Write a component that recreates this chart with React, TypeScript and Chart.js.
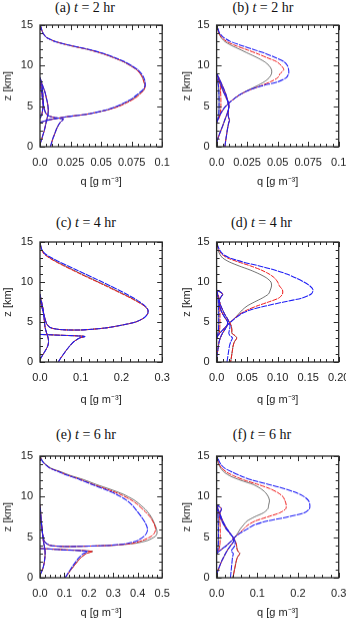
import React, { useEffect, useRef } from 'react';
import { Chart, registerables } from 'chart.js';
Chart.register(...registerables);

// ---------- shared ----------
const yTicks = [0, 5, 10, 15];
const yTickLabels = ['0', '5', '10', '15'];

// ---------- panel (a) t = 2 hr ----------
const aXTicks = [0, 0.025, 0.05, 0.075, 0.1];
const aXTickLabels = ['0.0', '0.025', '0.05', '0.075', '0.1'];
const aSnowZ = [3.0, 3.3, 3.5, 3.7, 4.0, 4.5, 5, 5.5, 6, 6.5, 7, 7.5, 8, 8.5, 9, 9.5, 10, 10.5, 11, 11.5, 12, 12.5, 13, 13.5, 14, 14.5, 15];
const aSnowK = [0, 0.007, 0.014, 0.022, 0.038, 0.054, 0.064, 0.071, 0.077, 0.081, 0.085, 0.086, 0.085, 0.084, 0.082, 0.079, 0.074, 0.068, 0.06, 0.051, 0.039, 0.024, 0.012, 0.005, 0.0025, 0.0012, 0.0004];
const aSnowR = [0, 0.007, 0.014, 0.022, 0.038, 0.054, 0.065, 0.072, 0.078, 0.082, 0.085, 0.086, 0.085, 0.084, 0.082, 0.079, 0.074, 0.068, 0.06, 0.051, 0.039, 0.024, 0.012, 0.005, 0.0025, 0.0012, 0.0004];
const aSnowB = [0, 0.007, 0.014, 0.022, 0.038, 0.053, 0.063, 0.07, 0.076, 0.08, 0.084, 0.086, 0.086, 0.085, 0.083, 0.08, 0.075, 0.069, 0.061, 0.052, 0.04, 0.025, 0.012, 0.005, 0.0025, 0.0012, 0.0004];
const aRainZ = [0, 0.5, 1, 1.5, 2, 2.5, 3, 3.4, 3.6, 3.8, 4.2, 5, 6, 7, 8];
const aRainX = [0.0085, 0.0095, 0.0105, 0.0118, 0.013, 0.0145, 0.0165, 0.019, 0.012, 0.007, 0.0045, 0.003, 0.002, 0.001, 0];
const aCloudZ = [0.3, 1, 1.5, 2, 2.5, 3, 3.5, 4, 4.5, 5, 5.5, 6, 6.5, 7, 7.5, 8, 8.5];
const aCloudX = [0, 0.0015, 0.0025, 0.0035, 0.0043, 0.005, 0.0058, 0.0065, 0.0068, 0.0065, 0.006, 0.0052, 0.0045, 0.0035, 0.0022, 0.001, 0];
const aIceZ = [3.5, 4, 5, 6, 7, 8, 8.5];
const aIceX = [0, 0.0015, 0.0025, 0.0025, 0.002, 0.001, 0];

// ---------- panel (b) t = 2 hr ----------
const bXTicks = [0, 0.025, 0.05, 0.075, 0.1];
const bXTickLabels = ['0.0', '0.025', '0.05', '0.075', '0.1'];
const bSnowZ = [3.0, 3.5, 4, 4.5, 5, 5.5, 6, 6.5, 7, 7.5, 8, 8.5, 9, 9.5, 10, 10.5, 11, 11.5, 12, 12.5, 13, 13.5, 14, 14.5, 15];
const bSnowK = [0, 0.0015, 0.003, 0.005, 0.0075, 0.011, 0.015, 0.02, 0.026, 0.033, 0.039, 0.043, 0.045, 0.045, 0.043, 0.039, 0.033, 0.026, 0.019, 0.012, 0.0065, 0.0035, 0.0018, 0.0008, 0.0003];
const bSnowR = [0, 0.0015, 0.003, 0.005, 0.0075, 0.011, 0.015, 0.02, 0.027, 0.036, 0.044, 0.05, 0.052, 0.055, 0.053, 0.049, 0.041, 0.033, 0.024, 0.015, 0.008, 0.004, 0.002, 0.001, 0.0003];
const bSnowB = [0, 0.0015, 0.003, 0.005, 0.0075, 0.011, 0.015, 0.02, 0.027, 0.037, 0.05, 0.057, 0.059, 0.059, 0.058, 0.055, 0.048, 0.04, 0.03, 0.02, 0.011, 0.0055, 0.0025, 0.0012, 0.0004];
const bRainZ = [0, 0.5, 1, 1.5, 2, 2.5, 3, 3.3, 3.6, 4, 4.5, 5, 5.5, 6, 6.5, 7, 7.5, 8, 8.5, 9];
const bRainX = [0.0068, 0.0072, 0.0077, 0.0082, 0.0087, 0.0093, 0.01, 0.0106, 0.0098, 0.0095, 0.0097, 0.0098, 0.0093, 0.0085, 0.0075, 0.0062, 0.0048, 0.0033, 0.0018, 0];
const bCloudZ = [0.5, 1, 1.5, 2, 2.5, 3, 3.5, 4, 4.5, 5, 5.5, 6, 6.5, 7, 7.5, 8, 8.5, 9];
const bCloudX = [0, 0.001, 0.0022, 0.0035, 0.0048, 0.006, 0.0072, 0.0085, 0.0095, 0.0102, 0.0095, 0.008, 0.0065, 0.005, 0.0038, 0.0025, 0.0012, 0];
const bIceZ = [3, 3.5, 4, 5, 6, 7, 7.5, 8, 8.5];
const bIceR = [0, 0.002, 0.003, 0.0035, 0.0035, 0.0032, 0.003, 0.002, 0];
const bIceB = [0, 0.0012, 0.0018, 0.002, 0.002, 0.0018, 0.0015, 0.001, 0];

// ---------- panel (c) t = 4 hr ----------
const cXTicks = [0, 0.1, 0.2, 0.3];
const cXTickLabels = ['0.0', '0.1', '0.2', '0.3'];
const cSnowZ = [8.0, 7.0, 6.2, 5.5, 4.8, 4.3, 4.05, 4.0, 4.25, 4.6, 5.0, 5.5, 6.0, 6.5, 7.0, 7.5, 8.0, 8.5, 9.0, 9.5, 10, 10.5, 11, 11.5, 12, 12.5, 13, 13.5, 14, 14.5, 15];
const cSnowK = [0, 0.004, 0.008, 0.012, 0.016, 0.025, 0.05, 0.1, 0.16, 0.2, 0.235, 0.255, 0.264, 0.265, 0.257, 0.242, 0.225, 0.205, 0.185, 0.165, 0.144, 0.123, 0.102, 0.082, 0.062, 0.042, 0.025, 0.011, 0.0045, 0.0018, 0.0005];
const cSnowR = [0, 0.004, 0.008, 0.012, 0.016, 0.025, 0.05, 0.1, 0.16, 0.2, 0.235, 0.255, 0.264, 0.265, 0.256, 0.24, 0.222, 0.202, 0.182, 0.162, 0.141, 0.12, 0.099, 0.079, 0.059, 0.04, 0.023, 0.01, 0.004, 0.0015, 0.0005];
const cSnowB = [0, 0.004, 0.008, 0.012, 0.016, 0.025, 0.05, 0.1, 0.16, 0.2, 0.235, 0.255, 0.264, 0.265, 0.258, 0.245, 0.23, 0.212, 0.193, 0.173, 0.153, 0.132, 0.111, 0.09, 0.069, 0.048, 0.029, 0.013, 0.005, 0.002, 0.0005];
const cRainZ = [0, 0.5, 1, 1.5, 2, 2.5, 3, 3.2, 3.35, 3.45];
const cRainX = [0.045, 0.051, 0.058, 0.065, 0.073, 0.082, 0.097, 0.11, 0.05, 0];
const cCloudZ = [0.3, 1, 1.5, 2, 2.5, 3, 3.5, 4, 4.5, 5, 5.5, 6, 6.5, 7, 7.5, 8, 8.5];
const cCloudX = [0, 0.008, 0.014, 0.019, 0.021, 0.02, 0.017, 0.014, 0.012, 0.011, 0.01, 0.009, 0.008, 0.006, 0.004, 0.002, 0];

// ---------- panel (d) t = 4 hr ----------
const dXTicks = [0, 0.05, 0.1, 0.15, 0.2];
const dXTickLabels = ['0.0', '0.05', '0.10', '0.15', '0.20'];
const dSnowZ = [3.0, 3.5, 4, 4.5, 5, 5.5, 6, 6.5, 7, 7.5, 8, 8.5, 9, 9.5, 10, 10.5, 11, 11.5, 12, 12.5, 13, 13.5, 14, 14.5, 15];
const dSnowK = [0, 0.004, 0.01, 0.016, 0.023, 0.03, 0.036, 0.042, 0.05, 0.062, 0.075, 0.085, 0.088, 0.09, 0.089, 0.082, 0.07, 0.055, 0.037, 0.021, 0.01, 0.005, 0.0025, 0.001, 0.0003];
const dSnowR = [0, 0.004, 0.01, 0.016, 0.023, 0.03, 0.038, 0.05, 0.066, 0.085, 0.102, 0.108, 0.108, 0.103, 0.1, 0.095, 0.086, 0.073, 0.056, 0.036, 0.018, 0.008, 0.004, 0.0015, 0.0005];
const dSnowB = [0, 0.004, 0.01, 0.016, 0.023, 0.031, 0.04, 0.055, 0.08, 0.11, 0.14, 0.155, 0.158, 0.153, 0.143, 0.13, 0.115, 0.095, 0.07, 0.043, 0.022, 0.01, 0.005, 0.002, 0.0005];
const dRainZ = [0, 0.5, 1, 1.5, 2, 2.5, 3, 3.3, 3.6, 4, 4.5, 5, 5.5, 6, 6.5, 7, 7.5, 8, 8.5, 9];
const dRainR = [0.023, 0.024, 0.025, 0.026, 0.027, 0.029, 0.033, 0.03, 0.025, 0.025, 0.024, 0.021, 0.017, 0.013, 0.01, 0.007, 0.005, 0.003, 0.0015, 0];
const dRainB = [0.017, 0.018, 0.019, 0.02, 0.021, 0.023, 0.026, 0.022, 0.02, 0.021, 0.022, 0.02, 0.017, 0.013, 0.01, 0.007, 0.005, 0.003, 0.0015, 0];
const dCloudZ = [0.5, 1, 1.5, 2, 2.5, 3, 3.5, 4, 4.5, 5, 5.5, 6, 6.5, 7, 7.5, 8, 8.5, 9];
const dCloudX = [0, 0.001, 0.002, 0.003, 0.004, 0.006, 0.009, 0.013, 0.017, 0.018, 0.014, 0.01, 0.007, 0.005, 0.004, 0.006, 0.01, 0];
const dIceZ = [3, 3.5, 4, 5, 6, 7, 8, 8.5, 9];
const dIceR = [0, 0.004, 0.005, 0.0055, 0.0055, 0.005, 0.004, 0.002, 0];
const dIceB = [0, 0.002, 0.003, 0.0035, 0.0035, 0.003, 0.0025, 0.0012, 0];

// ---------- panel (e) t = 6 hr ----------
const eXTicks = [0, 0.1, 0.2, 0.3, 0.4, 0.5];
const eXTickLabels = ['0.0', '0.1', '0.2', '0.3', '0.4', '0.5'];
const eSnowZ = [8.0, 7.0, 6.0, 5.0, 4.4, 4.0, 3.85, 3.9, 4.0, 4.25, 4.6, 5.1, 5.5, 6.0, 6.7, 7.5, 8.3, 9.0, 9.6, 10.3, 10.9, 11.5, 12.1, 12.6, 13.1, 13.5, 13.9, 14.3, 14.7, 15];
const eSnowK = [0, 0.004, 0.008, 0.013, 0.02, 0.04, 0.1, 0.2, 0.3, 0.39, 0.44, 0.472, 0.479, 0.477, 0.468, 0.455, 0.435, 0.41, 0.384, 0.34, 0.288, 0.23, 0.178, 0.125, 0.082, 0.045, 0.027, 0.012, 0.005, 0.001];
const eSnowR = [0, 0.004, 0.008, 0.013, 0.02, 0.04, 0.1, 0.2, 0.3, 0.38, 0.42, 0.455, 0.468, 0.473, 0.466, 0.45, 0.425, 0.4, 0.372, 0.327, 0.275, 0.218, 0.167, 0.117, 0.076, 0.041, 0.024, 0.011, 0.004, 0.001];
const eSnowB = [0, 0.004, 0.008, 0.013, 0.02, 0.04, 0.1, 0.2, 0.29, 0.36, 0.4, 0.425, 0.436, 0.44, 0.432, 0.415, 0.395, 0.375, 0.352, 0.312, 0.265, 0.213, 0.163, 0.115, 0.074, 0.041, 0.024, 0.011, 0.004, 0.001];
const eRainZ = [0, 0.5, 1, 1.5, 2, 2.5, 3, 3.25, 3.45, 3.6];
const eRainR = [0.103, 0.115, 0.127, 0.14, 0.153, 0.168, 0.19, 0.215, 0.1, 0];
const eRainB = [0.103, 0.113, 0.124, 0.135, 0.147, 0.16, 0.178, 0.195, 0.09, 0];
const eCloudZ = [0.3, 1, 1.5, 2, 2.5, 3, 3.5, 4, 4.5, 5, 5.5, 6, 6.5, 7, 7.5, 8, 8.5, 9];
const eCloudX = [0, 0.01, 0.015, 0.018, 0.02, 0.021, 0.02, 0.017, 0.014, 0.012, 0.01, 0.009, 0.007, 0.005, 0.004, 0.003, 0.0015, 0];

// ---------- panel (f) t = 6 hr ----------
const fXTicks = [0, 0.1, 0.2, 0.3];
const fXTickLabels = ['0.0', '0.1', '0.2', '0.3'];
const fSnowZ = [3.0, 3.5, 4, 4.5, 5, 5.5, 6, 6.5, 7, 7.5, 8, 8.5, 9, 9.5, 10, 10.5, 11, 11.5, 12, 12.5, 13, 13.5, 14, 14.5, 15];
const fSnowK = [0, 0.012, 0.025, 0.036, 0.045, 0.052, 0.058, 0.066, 0.075, 0.093, 0.115, 0.126, 0.128, 0.13, 0.127, 0.12, 0.108, 0.09, 0.06, 0.035, 0.019, 0.01, 0.005, 0.002, 0.0006];
const fSnowR = [0, 0.012, 0.025, 0.036, 0.045, 0.056, 0.066, 0.077, 0.095, 0.125, 0.155, 0.17, 0.171, 0.168, 0.163, 0.15, 0.13, 0.102, 0.07, 0.045, 0.025, 0.013, 0.006, 0.003, 0.0008];
const fSnowB = [0, 0.012, 0.025, 0.036, 0.045, 0.058, 0.075, 0.092, 0.125, 0.175, 0.215, 0.228, 0.229, 0.226, 0.215, 0.195, 0.165, 0.128, 0.09, 0.062, 0.04, 0.02, 0.01, 0.005, 0.001];
const fRainZ = [0, 0.5, 1, 1.5, 2, 2.5, 3, 3.3, 3.6, 4, 4.5, 5, 5.5, 6, 6.5, 7, 7.5, 8, 8.5, 9];
const fRainR = [0.04, 0.042, 0.044, 0.046, 0.048, 0.051, 0.057, 0.052, 0.05, 0.049, 0.046, 0.04, 0.033, 0.026, 0.02, 0.015, 0.011, 0.007, 0.003, 0];
const fRainB = [0.034, 0.035, 0.036, 0.037, 0.038, 0.039, 0.041, 0.036, 0.04, 0.045, 0.045, 0.04, 0.033, 0.026, 0.02, 0.015, 0.011, 0.007, 0.003, 0];
const fCloudZ = [0.3, 1, 1.5, 2, 2.5, 3, 3.5, 4, 4.5, 5, 5.5, 6, 6.5, 7, 7.5, 8, 8.5, 9];
const fCloudX = [0, 0.004, 0.008, 0.012, 0.017, 0.022, 0.028, 0.035, 0.042, 0.04, 0.032, 0.024, 0.018, 0.013, 0.009, 0.008, 0.012, 0];
const fIceZ = [3, 3.5, 4, 5, 6, 7, 8, 8.5, 9];
const fIceR = [0, 0.006, 0.008, 0.009, 0.009, 0.008, 0.006, 0.003, 0];
const fIceB = [0, 0.003, 0.004, 0.0045, 0.0045, 0.004, 0.003, 0.0015, 0];

// ---------- layout (positions only) ----------
const FONT = '"Liberation Sans", Arial, Helvetica, sans-serif';
const COLS = [
  { x: 0, w: 173, plotL: 40, plotR: 162.2, yTitleC: 7.5 },
  { x: 173, w: 173, plotL: 216.6, plotR: 338.7, yTitleC: 13.5 },
];
const ROWS = [
  { top: 25, bottom: 146.7, titleY: 8, xTitleOff: 35 },
  { top: 241.7, bottom: 362.3, titleY: 222.5, xTitleOff: 38 },
  { top: 456, bottom: 577.7, titleY: 434.5, xTitleOff: 35 },
];

type Curve = { z: number[]; k: number[]; r: number[]; b: number[] };
type PanelDef = {
  label: string; hr: number; row: number; col: number; titleX: number;
  xMax: number; xMinor: number; xTicks: number[]; xLabels: string[]; curves: Curve[];
};

const panels: PanelDef[] = [
  { label: '(a)', hr: 2, row: 0, col: 0, titleX: 85, xMax: 0.1, xMinor: 0.005, xTicks: aXTicks, xLabels: aXTickLabels,
    curves: [
      { z: aSnowZ, k: aSnowK, r: aSnowR, b: aSnowB },
      { z: aRainZ, k: aRainX, r: aRainX, b: aRainX },
      { z: aCloudZ, k: aCloudX, r: aCloudX, b: aCloudX },
      { z: aIceZ, k: aIceX, r: aIceX, b: aIceX },
    ] },
  { label: '(b)', hr: 2, row: 0, col: 1, titleX: 263, xMax: 0.1, xMinor: 0.005, xTicks: bXTicks, xLabels: bXTickLabels,
    curves: [
      { z: bSnowZ, k: bSnowK, r: bSnowR, b: bSnowB },
      { z: bRainZ, k: bRainX, r: bRainX, b: bRainX },
      { z: bCloudZ, k: bCloudX, r: bCloudX, b: bCloudX },
      { z: bIceZ, k: bIceB, r: bIceR, b: bIceB },
    ] },
  { label: '(c)', hr: 4, row: 1, col: 0, titleX: 86, xMax: 0.3, xMinor: 0.02, xTicks: cXTicks, xLabels: cXTickLabels,
    curves: [
      { z: cSnowZ, k: cSnowK, r: cSnowR, b: cSnowB },
      { z: cRainZ, k: cRainX, r: cRainX, b: cRainX },
      { z: cCloudZ, k: cCloudX, r: cCloudX, b: cCloudX },
    ] },
  { label: '(d)', hr: 4, row: 1, col: 1, titleX: 261.5, xMax: 0.2, xMinor: 0.01, xTicks: dXTicks, xLabels: dXTickLabels,
    curves: [
      { z: dSnowZ, k: dSnowK, r: dSnowR, b: dSnowB },
      { z: dRainZ, k: dRainR, r: dRainR, b: dRainB },
      { z: dCloudZ, k: dCloudX, r: dCloudX, b: dCloudX },
      { z: dIceZ, k: dIceB, r: dIceR, b: dIceB },
    ] },
  { label: '(e)', hr: 6, row: 2, col: 0, titleX: 86, xMax: 0.5, xMinor: 0.02, xTicks: eXTicks, xLabels: eXTickLabels,
    curves: [
      { z: eSnowZ, k: eSnowK, r: eSnowR, b: eSnowB },
      { z: eRainZ, k: eRainR, r: eRainR, b: eRainB },
      { z: eCloudZ, k: eCloudX, r: eCloudX, b: eCloudX },
    ] },
  { label: '(f)', hr: 6, row: 2, col: 1, titleX: 262, xMax: 0.3, xMinor: 0.02, xTicks: fXTicks, xLabels: fXTickLabels,
    curves: [
      { z: fSnowZ, k: fSnowK, r: fSnowR, b: fSnowB },
      { z: fRainZ, k: fRainR, r: fRainR, b: fRainB },
      { z: fCloudZ, k: fCloudX, r: fCloudX, b: fCloudX },
      { z: fIceZ, k: fIceB, r: fIceR, b: fIceB },
    ] },
];

const pts = (xs: number[], zs: number[]) => zs.map((z, i) => ({ x: xs[i], y: z }));

const framePlugin = {
  id: 'frame',
  afterDatasetsDraw(chart: any, _a: any, opts: any) {
    const { ctx, chartArea: a, scales } = chart;
    const xs = scales.x, ys = scales.y;
    ctx.save();
    ctx.strokeStyle = '#2a2a2a';
    ctx.lineWidth = 1;
    const seg = (x1: number, y1: number, x2: number, y2: number) => {
      ctx.beginPath(); ctx.moveTo(x1, y1); ctx.lineTo(x2, y2); ctx.stroke();
    };
    for (let v = 0; v <= 15; v += 1) {
      const py = Math.round(ys.getPixelForValue(v)) + 0.5;
      const len = v % 5 === 0 ? 5 : 3;
      seg(a.left, py, a.left + len, py);
      seg(a.right, py, a.right - len, py);
    }
    const n = Math.round(opts.max / opts.minor);
    const majors: number[] = opts.majors;
    for (let i = 0; i <= n; i++) {
      const v = i * opts.minor;
      const px = Math.round(xs.getPixelForValue(v)) + 0.5;
      const isMajor = majors.some((m) => Math.abs(m - v) < opts.minor / 10);
      const len = isMajor ? 5 : 3;
      seg(px, a.top, px, a.top + len);
      seg(px, a.bottom, px, a.bottom - len);
    }
    ctx.lineWidth = 1.3;
    ctx.strokeRect(a.left, a.top, a.right - a.left, a.bottom - a.top);
    ctx.restore();
  },
};

function Panel({ p }: { p: PanelDef }) {
  const ref = useRef<HTMLCanvasElement>(null);
  const col = COLS[p.col];
  const row = ROWS[p.row];
  const padT = 6;
  const xAxisH = 50;
  const cTop = row.top - padT;
  const cH = padT + (row.bottom - row.top) + xAxisH;

  useEffect(() => {
    const datasets: any[] = [];
    // 'order': higher order is drawn first (underneath); blue ends on top.
    const styles = [
      { key: 'k', color: 'rgba(60,60,60,0.9)', dash: [] as number[], off: 0, w: 0.8, order: 3 },
      { key: 'r', color: '#ee1818', dash: [5, 1], off: 3, w: 1, order: 2 },
      { key: 'b', color: '#1e1ef5', dash: [6, 1], off: 0, w: 1.05, order: 1 },
    ];
    styles.forEach((s) => {
      p.curves.forEach((c: any) => {
        datasets.push({
          data: pts(c[s.key], c.z),
          showLine: true,
          borderColor: s.color,
          borderWidth: s.w,
          borderDash: s.dash,
          borderDashOffset: s.off,
          pointRadius: 0,
          tension: 0.25,
          fill: false,
          order: s.order,
        });
      });
    });
    const chart = new Chart(ref.current as HTMLCanvasElement, {
      type: 'scatter',
      data: { datasets },
      options: {
        responsive: false,
        animation: false,
        devicePixelRatio: 1,
        events: [],
        layout: { padding: { left: 0, right: col.x + col.w - col.plotR, top: padT, bottom: 0 } },
        plugins: {
          legend: { display: false },
          tooltip: { enabled: false },
          frame: { minor: p.xMinor, max: p.xMax, majors: p.xTicks },
        } as any,
        scales: {
          x: {
            type: 'linear',
            min: 0,
            max: p.xMax,
            grid: { display: false, drawTicks: false },
            border: { display: false },
            afterBuildTicks: (s: any) => { s.ticks = p.xTicks.map((v) => ({ value: v })); },
            afterFit: (s: any) => { s.height = xAxisH; s.paddingLeft = 0; s.paddingRight = 0; },
            ticks: {
              padding: 9,
              maxRotation: 0,
              autoSkip: false,
              color: '#222',
              font: { family: FONT, size: 11 },
              callback: (_v: any, i: number) => p.xLabels[i],
            },
            title: {
              display: true,
              text: 'q [g m\u207B\u00B3]',
              color: '#222',
              font: { family: FONT, size: 11 },
              padding: { top: 0, bottom: xAxisH - 6.6 - row.xTitleOff },
            },
          },
          y: {
            type: 'linear',
            min: 0,
            max: 15,
            grid: { display: false, drawTicks: false },
            border: { display: false },
            afterBuildTicks: (s: any) => { s.ticks = yTicks.map((v) => ({ value: v })); },
            afterFit: (s: any) => { s.width = col.plotL - col.x; s.paddingTop = 0; s.paddingBottom = 0; },
            ticks: {
              padding: 7,
              color: '#222',
              font: { family: FONT, size: 11 },
              callback: (_v: any, i: number) => yTickLabels[i],
            },
            title: {
              display: true,
              text: 'z [km]',
              color: '#222',
              font: { family: FONT, size: 11 },
              padding: { top: col.yTitleC - 6.6, bottom: 0 },
            },
          },
        },
      },
      plugins: [framePlugin],
    });
    return () => chart.destroy();
  }, []);

  return (
    <>
      <canvas
        ref={ref}
        width={col.w}
        height={cH}
        style={{ position: 'absolute', left: col.x, top: cTop, width: col.w, height: cH }}
      />
      <div
        style={{
          position: 'absolute',
          left: p.titleX,
          top: row.titleY - 8,
          transform: 'translateX(-50%)',
          whiteSpace: 'nowrap',
          font: '14px/16px "Liberation Serif", "Times New Roman", serif',
          color: '#111',
        }}
      >
        {p.label} <i>t</i> = {p.hr} hr
      </div>
    </>
  );
}

export default function App() {
  return (
    <div
      style={{
        position: 'absolute',
        left: 0,
        top: 0,
        width: 346,
        height: 623,
        overflow: 'hidden',
        background: '#fff',
      }}
    >
      {panels.map((p) => (
        <Panel key={p.label} p={p} />
      ))}
    </div>
  );
}
